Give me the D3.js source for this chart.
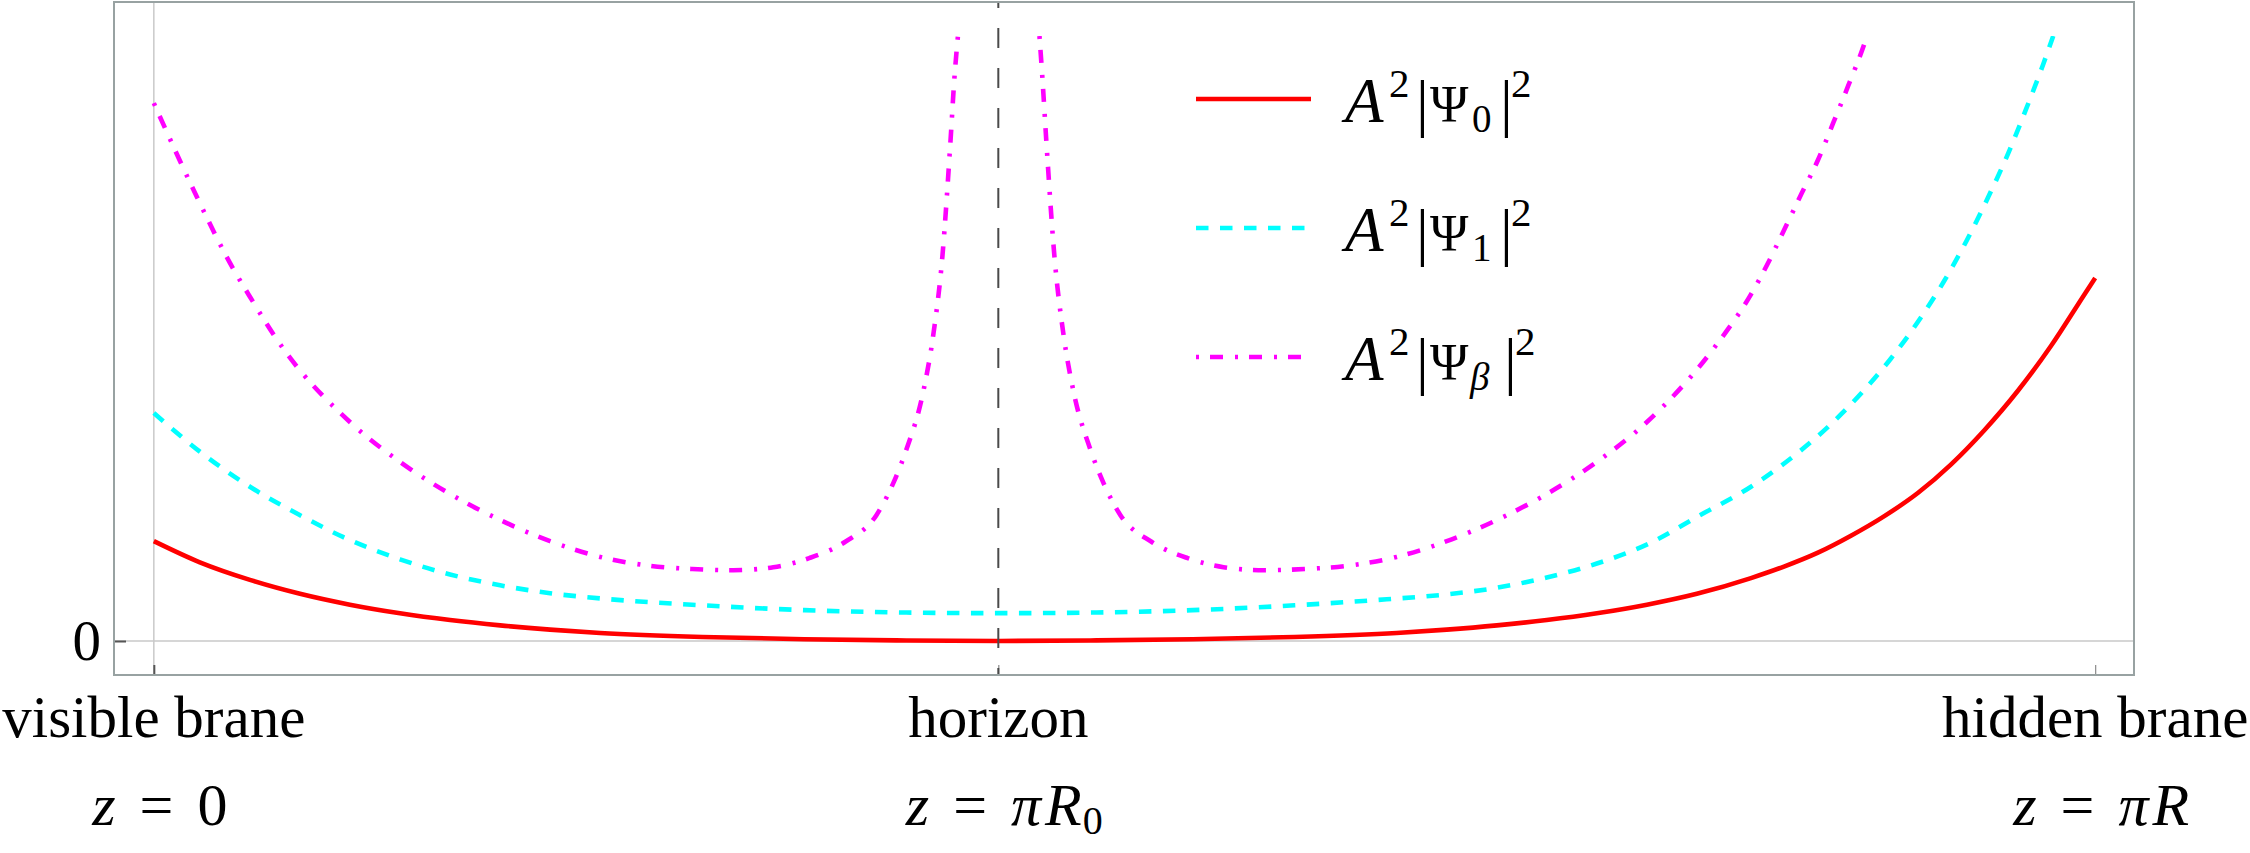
<!DOCTYPE html>
<html>
<head>
<meta charset="utf-8">
<script src="https://cdn.jsdelivr.net/npm/d3@7"></script>
<style>
  html, body { margin: 0; padding: 0; background: #ffffff; }
  svg { display: block; }
  text { font-family: "Liberation Serif", "Times New Roman", serif; fill: #000; }
</style>
</head>
<body>
<svg id="chart" width="2250" height="853"></svg>
<script>
// ---------------- data (z as fraction of πR, value in plot units; plot range is 0..1) ----------------
const horizonZ = 0.435;

const redZ = [0, 0.0237, 0.0495, 0.0753, 0.1010, 0.1268, 0.1526, 0.1784, 0.2041, 0.2299, 0.2825, 0.3351, 0.3876, 0.4351,
  0.4825, 0.5351, 0.5876, 0.6402, 0.6660, 0.6918, 0.7175, 0.7433, 0.7691, 0.7948, 0.8227, 0.8397, 0.8572, 0.8742,
  0.8912, 0.9088, 0.9258, 0.9428, 0.9603, 0.9773, 0.9943, 1.0];
const redV = [0.165, 0.130, 0.101, 0.078, 0.060, 0.0458, 0.0346, 0.0258, 0.0188, 0.0133, 0.0066, 0.003, 0.0009, 0.0,
  0.0009, 0.003, 0.0066, 0.0133, 0.0188, 0.0258, 0.0346, 0.0458, 0.060, 0.078, 0.104, 0.123, 0.146, 0.174,
  0.206, 0.245, 0.292, 0.348, 0.414, 0.488, 0.572, 0.600];

const cyanZ = [0, 0.0237, 0.0495, 0.0753, 0.0974, 0.1268, 0.1526, 0.1784, 0.2041, 0.2351, 0.2825, 0.3351, 0.3876, 0.4351,
  0.4825, 0.5351, 0.5876, 0.6351, 0.6660, 0.6918, 0.7175, 0.7433, 0.7727, 0.7948, 0.8227, 0.8433, 0.8624, 0.8794,
  0.8948, 0.9103, 0.9222, 0.9335, 0.9448, 0.9552, 0.9644, 0.9732, 0.9784];
const cyanV = [0.377, 0.313, 0.255, 0.208, 0.172, 0.135, 0.110, 0.092, 0.079, 0.069, 0.059, 0.051, 0.047, 0.046,
  0.047, 0.051, 0.059, 0.069, 0.077, 0.088, 0.105, 0.128, 0.165, 0.205, 0.255, 0.302, 0.354, 0.409,
  0.467, 0.535, 0.595, 0.660, 0.733, 0.806, 0.879, 0.953, 1.0];

// Ψ_β has a pole at the horizon: two branches
const magLeftZ = [0, 0.0222, 0.0392, 0.0495, 0.0665, 0.1010, 0.1268, 0.1526, 0.1784, 0.2041, 0.2299, 0.2562, 0.2773,
  0.2985, 0.3191, 0.3376, 0.3562, 0.3722, 0.3809, 0.3876, 0.3964, 0.4015, 0.4062, 0.4103, 0.4124, 0.4142];
const magLeftV = [0.889, 0.734, 0.625, 0.569, 0.484, 0.362, 0.296, 0.243, 0.200, 0.165, 0.139, 0.124, 0.119,
  0.117, 0.122, 0.137, 0.164, 0.208, 0.261, 0.316, 0.413, 0.506, 0.636, 0.823, 0.931, 1.0];

const magRightZ = [0.4562, 0.4577, 0.4598, 0.4639, 0.4686, 0.4737, 0.4825, 0.4892, 0.4979, 0.5139, 0.5325, 0.5510,
  0.5716, 0.5928, 0.6139, 0.6402, 0.6660, 0.6918, 0.7175, 0.7433, 0.7691, 0.8036, 0.8227, 0.8309, 0.8397,
  0.8479, 0.8572, 0.8649, 0.8727, 0.8809, 0.8825];
const magRightV = [1.0, 0.931, 0.823, 0.636, 0.506, 0.413, 0.316, 0.261, 0.208, 0.164, 0.137, 0.122,
  0.117, 0.119, 0.124, 0.139, 0.165, 0.200, 0.243, 0.296, 0.362, 0.484, 0.573, 0.621, 0.679,
  0.734, 0.795, 0.855, 0.917, 0.985, 1.0];

const xTickZ = [0, horizonZ, 1];
const xTickNames = ["visible brane", "horizon", "hidden brane"];
const yTickValues = [0];
const legendSubs = ["0", "1", "β"];
const seriesColors = ["#ff0000", "#00ffff", "#ff00ff"];

// ---------------- layout ----------------
const svg = d3.select("#chart");
svg.append("rect").attr("width", 2250).attr("height", 853).attr("fill", "#fff");

const frame = { left: 114, right: 2134, top: 2, bottom: 675 };
const x = d3.scaleLinear().domain([-0.02, 1.02]).range([frame.left + 1, frame.right]);
const y = d3.scaleLinear().domain([-0.0562, 1.0562]).range([frame.bottom, frame.top]);

// grid lines
svg.append("line").attr("x1", x(0)).attr("x2", x(0)).attr("y1", frame.top).attr("y2", frame.bottom)
  .attr("stroke", "#c9c9c9").attr("stroke-width", 1.5);
svg.append("line").attr("x1", frame.left).attr("x2", frame.right).attr("y1", y(0)).attr("y2", y(0))
  .attr("stroke", "#c9c9c9").attr("stroke-width", 1.5);

// axes ticks
const xAxis = d3.axisBottom(x).tickValues(xTickZ).tickSize(-10).tickFormat("");
const gx = svg.append("g").attr("transform", `translate(0,${frame.bottom})`).call(xAxis);
gx.select(".domain").remove();
gx.selectAll(".tick line").attr("stroke", (d, i) => i === 0 ? "#555" : "#8a8a8a").attr("stroke-width", (d, i) => i === 0 ? 2 : 1.2);

const yAxis = d3.axisLeft(y).tickValues(yTickValues).tickSize(-12).tickPadding(13).tickFormat(d3.format("d"));
const gy = svg.append("g").attr("transform", `translate(${frame.left},0)`).call(yAxis);
gy.select(".domain").remove();
gy.selectAll(".tick line").attr("stroke", "#555").attr("stroke-width", 2);
gy.selectAll(".tick text").attr("font-family", "Liberation Serif").attr("font-size", 57).attr("fill", "#000");

// curves
const clipId = "plotclip";
svg.append("clipPath").attr("id", clipId).append("rect")
  .attr("x", frame.left).attr("y", y(1)).attr("width", frame.right - frame.left).attr("height", frame.bottom - y(1));

const line = d3.line().x(d => x(d[0])).y(d => y(d[1])).curve(d3.curveMonotoneX);
const zip = (a, b) => a.map((v, i) => [v, b[i]]);
const plot = svg.append("g").attr("clip-path", `url(#${clipId})`);

const dashCyan = "12.5,11.5";
const dashMag = "3,11,13,12";

plot.append("path").datum(zip(redZ, redV)).attr("d", line)
  .attr("fill", "none").attr("stroke", seriesColors[0]).attr("stroke-width", 4.6);
plot.append("path").datum(zip(cyanZ, cyanV)).attr("d", line)
  .attr("fill", "none").attr("stroke", seriesColors[1]).attr("stroke-width", 4.6).attr("stroke-dasharray", dashCyan);
plot.append("path").datum(zip(magLeftZ, magLeftV)).attr("d", line)
  .attr("fill", "none").attr("stroke", seriesColors[2]).attr("stroke-width", 4.6).attr("stroke-dasharray", dashMag);
plot.append("path").datum(zip(magRightZ, magRightV)).attr("d", line)
  .attr("fill", "none").attr("stroke", seriesColors[2]).attr("stroke-width", 4.6).attr("stroke-dasharray", dashMag);

// horizon dashed line
svg.append("line").attr("x1", x(horizonZ)).attr("x2", x(horizonZ)).attr("y1", frame.top).attr("y2", frame.bottom)
  .attr("stroke", "#4a4a4a").attr("stroke-width", 2).attr("stroke-dasharray", "20,20").attr("stroke-dashoffset", 14);

// frame
svg.append("rect").attr("x", frame.left).attr("y", frame.top).attr("width", frame.right - frame.left)
  .attr("height", frame.bottom - frame.top).attr("fill", "none").attr("stroke", "#98a2a2").attr("stroke-width", 2);

// x labels
svg.selectAll("text.xname").data(xTickZ).enter().append("text").attr("class", "xname")
  .attr("x", d => x(d)).attr("y", 737).attr("text-anchor", "middle").attr("font-size", 59)
  .text((d, i) => xTickNames[i]);

// math labels z = 0, z = πR0, z = πR
const mathG = svg.append("g").attr("font-size", 60);
function mathLabel(t, parts) {
  const tx = mathG.append("text").attr("x", x(t) + 6).attr("y", 825).attr("text-anchor", "middle");
  parts.forEach(p => {
    const s = tx.append("tspan").text(p.s);
    if (p.it) s.attr("font-style", "italic");
    if (p.dx) s.attr("dx", p.dx);
    if (p.dy) s.attr("dy", p.dy);
    if (p.fs) s.attr("font-size", p.fs);
  });
}
mathLabel(xTickZ[0], [{ s: "z", it: 1 }, { s: "=", dx: 24 }, { s: "0", dx: 24 }]);
mathLabel(xTickZ[1], [{ s: "z", it: 1 }, { s: "=", dx: 24 }, { s: "π", it: 1, dx: 24 }, { s: "R", it: 1, dx: 4 }, { s: "0", fs: 40, dy: 9, dx: 1 }]);
mathLabel(xTickZ[2], [{ s: "z", it: 1 }, { s: "=", dx: 24 }, { s: "π", it: 1, dx: 24 }, { s: "R", it: 1, dx: 4 }]);

// legend
const legendTop = 99, legendStep = 129;
const legendDash = [null, dashCyan, dashMag];
legendSubs.forEach((sub, i) => {
  const ly = legendTop + i * legendStep;
  svg.append("line").attr("x1", 1196).attr("x2", i === 0 ? 1311 : (i === 1 ? 1305 : 1302))
    .attr("y1", ly).attr("y2", ly).attr("stroke", seriesColors[i]).attr("stroke-width", 4.6)
    .attr("stroke-dasharray", legendDash[i]);
  const b = ly + 23;
  const isGreek = sub === "β";
  const t = svg.append("text").attr("y", b).attr("font-size", 63);
  t.append("tspan").attr("x", 1345).attr("y", b).attr("font-style", "italic").text("A");
  t.append("tspan").attr("x", 1389).attr("y", b - 25).attr("font-size", 41).text("2");
  t.append("tspan").attr("x", 1416).attr("y", b + 2).attr("font-size", 64).text("|");
  t.append("tspan").attr("x", 1430).attr("y", b).attr("font-size", 52).text("Ψ");
  t.append("tspan").attr("x", isGreek ? 1470 : 1472).attr("y", b + 10).attr("font-size", 39)
    .attr("font-style", isGreek ? "italic" : null).text(sub);
  t.append("tspan").attr("x", isGreek ? 1504 : 1500).attr("y", b + 2).attr("font-size", 64).text("|");
  t.append("tspan").attr("x", isGreek ? 1515 : 1511).attr("y", b - 25).attr("font-size", 41).text("2");
});
</script>
</body>
</html>
